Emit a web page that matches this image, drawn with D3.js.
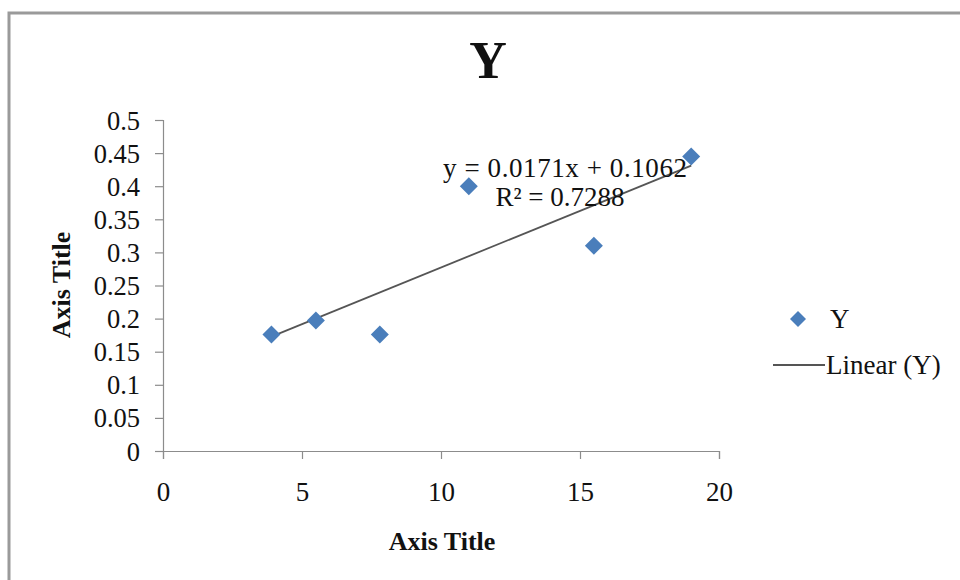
<!DOCTYPE html>
<html>
<head>
<meta charset="utf-8">
<script src="https://cdn.jsdelivr.net/npm/d3@7"></script>
<style>
  html, body { margin: 0; padding: 0; background: #fff; }
  svg { display: block; }
  text { font-family: "Liberation Serif", "Times New Roman", serif; fill: #111; }
</style>
</head>
<body>
<svg id="chart" width="960" height="580"></svg>
<script>
// Observations
const xValues = [3.9, 5.5, 7.8, 11.0, 15.5, 19.0];
const yValues = [0.176, 0.197, 0.176, 0.400, 0.310, 0.445];

// Fitted linear trend (as reported on the chart)
const trendSlope = 0.0171;
const trendIntercept = 0.1062;
const trendR2 = 0.7288;

// Axis ticks
const xTicks = [0, 5, 10, 15, 20];
const yTicks = [0, 0.05, 0.1, 0.15, 0.2, 0.25, 0.3, 0.35, 0.4, 0.45, 0.5];

const chartTitle = "Y";
const xAxisTitle = "Axis Title";
const yAxisTitle = "Axis Title";
const seriesName = "Y";
const trendName = "Linear (Y)";

const svg = d3.select("#chart");
const W = 960, H = 580;

// chart frame (extends past the right and bottom edges)
svg.append("rect")
  .attr("x", 9).attr("y", 13)
  .attr("width", W + 20).attr("height", H + 20)
  .attr("fill", "none")
  .attr("stroke", "#9a9a9a")
  .attr("stroke-width", 3);

const plot = { left: 163, right: 719, top: 120, bottom: 451 };

const x = d3.scaleLinear().domain([0, 20]).range([plot.left, plot.right]);
const y = d3.scaleLinear().domain([0, 0.5]).range([plot.bottom, plot.top]);

// Y axis
const yAxis = svg.append("g")
  .attr("transform", `translate(${plot.left},0)`)
  .call(d3.axisLeft(y).tickValues(yTicks).tickSize(8).tickPadding(15)
    .tickFormat(d => String(+d.toFixed(2))));
yAxis.select(".domain").attr("stroke", "#8c8c8c").attr("stroke-width", 1.2);
yAxis.selectAll(".tick line").attr("stroke", "#8c8c8c").attr("stroke-width", 1.2);
yAxis.selectAll(".tick text")
  .style("font-family", "'Liberation Serif', serif")
  .style("font-size", "26.5px").attr("fill", "#111").attr("dy", "0.34em");

// X axis
const xAxis = svg.append("g")
  .attr("transform", `translate(0,${plot.bottom})`)
  .call(d3.axisBottom(x).tickValues(xTicks).tickSize(8).tickPadding(23).tickSizeOuter(8));
xAxis.select(".domain").attr("stroke", "#8c8c8c").attr("stroke-width", 1.2);
xAxis.selectAll(".tick line").attr("stroke", "#8c8c8c").attr("stroke-width", 1.2);
xAxis.selectAll(".tick text")
  .style("font-family", "'Liberation Serif', serif")
  .style("font-size", "27px").attr("fill", "#111");

// Title
svg.append("text")
  .attr("x", 488).attr("y", 78)
  .attr("text-anchor", "middle")
  .style("font-size", "52px").style("font-weight", "bold")
  .text(chartTitle);

// Axis titles
svg.append("text")
  .attr("x", 442).attr("y", 550)
  .attr("text-anchor", "middle")
  .style("font-size", "26px").style("font-weight", "bold")
  .text(xAxisTitle);

svg.append("text")
  .attr("transform", "translate(70,285) rotate(-90)")
  .attr("text-anchor", "middle")
  .style("font-size", "26px").style("font-weight", "bold")
  .text(yAxisTitle);

// Trend line over the observed x range
const xMin = d3.min(xValues), xMax = d3.max(xValues);
svg.append("line")
  .attr("x1", x(xMin)).attr("y1", y(trendSlope * xMin + trendIntercept))
  .attr("x2", x(xMax)).attr("y2", y(trendSlope * xMax + trendIntercept))
  .attr("stroke", "#555")
  .attr("stroke-width", 1.8);

// Diamond markers
const diamond = r => `M0,${-r}L${r},0L0,${r}L${-r},0Z`;
svg.append("g").selectAll("path")
  .data(xValues.map((v, i) => [v, yValues[i]]))
  .join("path")
  .attr("transform", d => `translate(${x(d[0])},${y(d[1])})`)
  .attr("d", diamond(9))
  .attr("fill", "#4a7ebb");

// Trend equation label
svg.append("text")
  .attr("x", 565).attr("y", 177)
  .attr("text-anchor", "middle")
  .attr("textLength", 244)
  .style("font-size", "27px")
  .text(`y = ${trendSlope}x + ${trendIntercept}`);

svg.append("text")
  .attr("x", 560).attr("y", 206)
  .attr("text-anchor", "middle")
  .style("font-size", "27px")
  .text(`R² = ${trendR2}`);

// Legend
const legend = svg.append("g");
legend.append("path")
  .attr("transform", "translate(798,319)")
  .attr("d", diamond(8))
  .attr("fill", "#4a7ebb");
legend.append("text")
  .attr("x", 830).attr("y", 328)
  .style("font-size", "27px")
  .text(seriesName);
legend.append("line")
  .attr("x1", 773).attr("x2", 825)
  .attr("y1", 365).attr("y2", 365)
  .attr("stroke", "#555").attr("stroke-width", 1.8);
legend.append("text")
  .attr("x", 826).attr("y", 374)
  .style("font-size", "27px")
  .text(trendName);
</script>
</body>
</html>
